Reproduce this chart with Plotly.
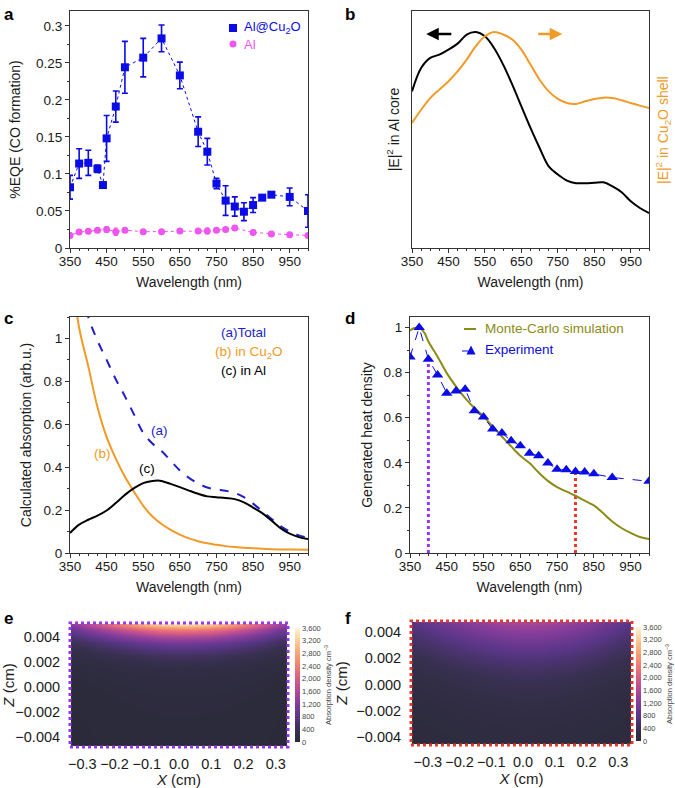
import plotly.graph_objects as go

W, H = 675, 788
FONT = "Liberation Sans, Arial, sans-serif"

# ---------------- Panel a data ----------------
a_wl = [350, 375, 400, 425, 440, 450, 475, 500, 550, 600, 650, 700, 725, 750, 775, 800, 825, 850, 875, 900, 950, 1000]
a_cu2o = [0.082, 0.114, 0.115, 0.107, 0.085, 0.148, 0.191, 0.244, 0.257, 0.283, 0.233, 0.157, 0.130, 0.087, 0.064, 0.056, 0.049, 0.058, 0.068, 0.072, 0.069, 0.050]
a_cu2o_err = [0.016, 0.020, 0.017, 0.005, 0.0, 0.031, 0.021, 0.035, 0.026, 0.018, 0.018, 0.020, 0.018, 0.007, 0.020, 0.013, 0.012, 0.010, 0.0, 0.002, 0.012, 0.022]
a_al_wl = [350, 375, 400, 425, 450, 475, 500, 550, 600, 650, 700, 725, 750, 775, 800, 850, 900, 950, 1000]
a_al = [0.017, 0.0216, 0.0225, 0.024, 0.025, 0.022, 0.024, 0.022, 0.022, 0.023, 0.023, 0.023, 0.024, 0.025, 0.027, 0.021, 0.019, 0.018, 0.017]
a_al_err = [0.003, 0.002, 0.002, 0.002, 0.004, 0.005, 0.002, 0.002, 0.001, 0.002, 0.002, 0.004, 0.002, 0.002, 0.002, 0.002, 0.003, 0.002, 0.001]

# ---------------- Panel b data ----------------
b_wl = [350, 375, 400, 425, 450, 475, 500, 525, 550, 575, 600, 625, 650, 675, 700, 725, 750, 775, 800, 825, 850, 875, 900, 925, 950, 975, 1000]
b_core = [0.725, 0.833, 0.880, 0.895, 0.918, 0.946, 0.988, 1.000, 0.980, 0.926, 0.849, 0.756, 0.656, 0.556, 0.463, 0.378, 0.340, 0.312, 0.300, 0.300, 0.302, 0.304, 0.285, 0.258, 0.216, 0.185, 0.162]
b_shell = [0.579, 0.640, 0.694, 0.733, 0.772, 0.818, 0.872, 0.934, 0.980, 1.000, 0.988, 0.965, 0.918, 0.849, 0.779, 0.725, 0.690, 0.671, 0.667, 0.679, 0.690, 0.696, 0.694, 0.684, 0.671, 0.659, 0.648]

# ---------------- Panel c data ----------------
c_wl_tot = [375, 400, 425, 450, 475, 500, 525, 550, 575, 600, 625, 650, 675, 700, 725, 750, 775, 800, 825, 850, 875, 900, 925, 950, 975, 1000]
c_total = [1.30, 1.10, 0.99, 0.90, 0.81, 0.73, 0.645, 0.56, 0.51, 0.475, 0.43, 0.385, 0.35, 0.325, 0.305, 0.297, 0.29, 0.28, 0.26, 0.23, 0.195, 0.16, 0.125, 0.10, 0.082, 0.072]
c_wl_cu = [350, 375, 400, 425, 450, 475, 500, 525, 550, 575, 600, 625, 650, 675, 700, 725, 750, 775, 800, 850, 900, 950, 1000]
c_cu2o = [1.35, 1.05, 0.87, 0.68, 0.54, 0.44, 0.355, 0.285, 0.22, 0.17, 0.135, 0.108, 0.086, 0.068, 0.055, 0.045, 0.038, 0.032, 0.028, 0.022, 0.018, 0.016, 0.015]
c_wl_al = [350, 375, 400, 425, 450, 475, 500, 525, 550, 575, 590, 600, 625, 650, 675, 700, 725, 750, 775, 800, 825, 850, 875, 900, 925, 950, 975, 1000]
c_al = [0.093, 0.132, 0.155, 0.174, 0.198, 0.233, 0.271, 0.302, 0.326, 0.336, 0.338, 0.336, 0.322, 0.307, 0.291, 0.276, 0.264, 0.260, 0.256, 0.251, 0.236, 0.212, 0.186, 0.152, 0.116, 0.090, 0.074, 0.065]

# ---------------- Panel d data ----------------
d_exp_wl = [350, 375, 400, 425, 450, 475, 500, 525, 550, 575, 600, 625, 650, 675, 700, 725, 750, 775, 800, 825, 850, 900, 1000]
d_exp = [0.869, 1.0, 0.86, 0.79, 0.709, 0.719, 0.727, 0.631, 0.603, 0.55, 0.532, 0.498, 0.476, 0.443, 0.431, 0.399, 0.372, 0.369, 0.362, 0.359, 0.352, 0.335, 0.318]
d_mc_wl = [350, 360, 375, 390, 400, 425, 450, 475, 500, 525, 550, 575, 600, 625, 650, 675, 700, 725, 750, 775, 800, 825, 850, 875, 900, 925, 950, 975, 1000]
d_mc = [0.987, 0.997, 1.0, 0.975, 0.938, 0.871, 0.798, 0.739, 0.687, 0.643, 0.606, 0.561, 0.517, 0.473, 0.431, 0.399, 0.357, 0.32, 0.292, 0.273, 0.254, 0.232, 0.211, 0.177, 0.14, 0.111, 0.089, 0.071, 0.062]
d_mark_wl = [400, 800]

# ---------------- Panels e, f data ----------------
hm_x = [-0.35, -0.3, -0.25, -0.2, -0.15, -0.1, -0.05, 0.0, 0.05, 0.1, 0.15, 0.2, 0.25, 0.3, 0.35]
hm_z = [-0.005, -0.0045, -0.004, -0.0035, -0.003, -0.0025, -0.002, -0.0015, -0.001, -0.0005, 0.0,
        0.0005, 0.001, 0.0015, 0.002, 0.0025, 0.003, 0.0035, 0.004, 0.0045, 0.005]
e_lateral = [0.34, 0.45, 0.57, 0.69, 0.80, 0.90, 0.97, 1.0, 0.98, 0.94, 0.86, 0.75, 0.62, 0.48, 0.36]
e_depth = [50, 52, 55, 58, 62, 67, 74, 82, 92, 105, 122, 145, 175, 240, 350, 520, 750, 1050, 1550, 2350, 3450]
f_lateral = [0.50, 0.58, 0.67, 0.76, 0.84, 0.91, 0.97, 1.0, 0.99, 0.95, 0.89, 0.80, 0.70, 0.59, 0.50]
f_depth = [110, 120, 132, 146, 162, 182, 206, 235, 270, 310, 360, 420, 490, 580, 680, 800, 930, 1080, 1250, 1450, 1700]
cbar_ticks = [0, 400, 800, 1200, 1600, 2000, 2400, 2800, 3200, 3600]

e_field = [[d * l for l in e_lateral] for d in e_depth]
f_field = [[d * l for l in f_lateral] for d in f_depth]

# ---------------- colours ----------------
BLUE = "#0b0be6"
MAG = "#ef55ef"
ORANGE = "#f29a26"
OLIVE = "#8b8b16"
DBLUE = "#1f1fcc"
PURPLE = "#9a35ee"
RED = "#e8382c"
AX = "#333333"
TXT = "#1a1a1a"

colorscale = [[0.0, "#2a2a38"], [0.1, "#37304f"], [0.22, "#5a3688"], [0.35, "#8a3d9c"],
              [0.48, "#bd4f90"], [0.62, "#e96e7a"], [0.75, "#f69a6e"], [0.88, "#f9c996"], [1.0, "#fdf5d5"]]


def px_x(p):
    return p / W


def px_y(p):
    return 1 - p / H


fig = go.Figure()

# ---- a ----
fig.add_trace(go.Scatter(x=a_wl, y=a_cu2o, mode="lines", line=dict(color=BLUE, width=1, dash="dot"),
                         xaxis="x", yaxis="y", showlegend=False))
fig.add_trace(go.Scatter(x=a_al_wl, y=a_al, mode="lines", line=dict(color=MAG, width=1, dash="dashdot"),
                         xaxis="x", yaxis="y", showlegend=False))
fig.add_trace(go.Scatter(x=a_wl, y=a_cu2o, mode="markers", marker=dict(symbol="square", size=8, color=BLUE),
                         error_y=dict(type="data", array=a_cu2o_err, color=BLUE, thickness=1.6, width=3),
                         xaxis="x", yaxis="y", showlegend=False))
fig.add_trace(go.Scatter(x=a_al_wl, y=a_al, mode="markers", marker=dict(symbol="circle", size=7, color=MAG),
                         error_y=dict(type="data", array=a_al_err, color=MAG, thickness=1.2, width=2),
                         xaxis="x", yaxis="y", showlegend=False))

# ---- b ----
fig.add_trace(go.Scatter(x=b_wl, y=b_core, mode="lines", line=dict(color="black", width=2, shape="spline"),
                         xaxis="x2", yaxis="y2", showlegend=False))
fig.add_trace(go.Scatter(x=b_wl, y=b_shell, mode="lines", line=dict(color=ORANGE, width=2, shape="spline"),
                         xaxis="x2", yaxis="y3", showlegend=False))

# ---- c ----
fig.add_trace(go.Scatter(x=c_wl_tot, y=c_total, mode="lines", line=dict(color=DBLUE, width=2, dash="dash", shape="spline"),
                         xaxis="x3", yaxis="y4", showlegend=False))
fig.add_trace(go.Scatter(x=c_wl_cu, y=c_cu2o, mode="lines", line=dict(color=ORANGE, width=2, shape="spline"),
                         xaxis="x3", yaxis="y4", showlegend=False))
fig.add_trace(go.Scatter(x=c_wl_al, y=c_al, mode="lines", line=dict(color="black", width=2, shape="spline"),
                         xaxis="x3", yaxis="y4", showlegend=False))

# ---- d ----
for wl, col in zip(d_mark_wl, [PURPLE, RED]):
    yv = d_exp[d_exp_wl.index(wl)]
    fig.add_trace(go.Scatter(x=[wl, wl], y=[0, yv], mode="lines", line=dict(color=col, width=3, dash="dot"),
                             xaxis="x4", yaxis="y5", showlegend=False))
fig.add_trace(go.Scatter(x=d_mc_wl, y=d_mc, mode="lines", line=dict(color=OLIVE, width=2, shape="spline"),
                         xaxis="x4", yaxis="y5", showlegend=False))
fig.add_trace(go.Scatter(x=d_exp_wl, y=d_exp, mode="lines+markers", line=dict(color=BLUE, width=1, dash="dash"),
                         marker=dict(symbol="triangle-up", size=10, color=BLUE),
                         xaxis="x4", yaxis="y5", showlegend=False))

# ---- e, f heatmaps ----
def cbar(xpix, ycenter):
    return dict(x=px_x(xpix), xanchor="left", y=px_y(ycenter), yanchor="middle", len=114, lenmode="pixels",
                thickness=5, xpad=0, ypad=0, outlinewidth=0, tickvals=cbar_ticks, tickformat=",d", ticks="",
                tickfont=dict(size=7.5, color="#444", family=FONT),
                title=dict(text="Absorption density cm<sup>−3</sup>", side="right", font=dict(size=7.5, color="#444", family=FONT)))

fig.add_trace(go.Heatmap(x=hm_x, y=hm_z, z=e_field, zmin=0, zmax=3600, colorscale=colorscale, zsmooth="best",
                         xaxis="x5", yaxis="y6", colorbar=cbar(295, 685)))
fig.add_trace(go.Heatmap(x=hm_x, y=hm_z, z=f_field, zmin=0, zmax=3600, colorscale=colorscale, zsmooth="best",
                         xaxis="x6", yaxis="y7", colorbar=cbar(636, 684)))

# ---------------- axes ----------------
tickfont = dict(size=13.5, color=TXT, family=FONT)
titlefont = dict(size=14, color=TXT, family=FONT)


def wl_axis(x0, x1, anchor, title=True):
    return dict(domain=[px_x(x0), px_x(x1)], range=[350, 1000], anchor=anchor, tick0=350, dtick=100,
                ticks="outside", ticklen=4, tickwidth=1, tickcolor=AX, showline=True, linecolor=AX, linewidth=1,
                mirror=True, showgrid=False, zeroline=False, tickfont=tickfont, automargin=False,
                ticklabelstandoff=-3,
                minor=dict(dtick=25, tick0=350, ticks="outside", ticklen=2, tickcolor=AX, showgrid=False),
                title=dict(text="Wavelength (nm)", font=titlefont, standoff=8))


def val_axis(y0, y1, anchor, rng, dtick, mdtick, title, standoff):
    return dict(domain=[px_y(y1), px_y(y0)], range=rng, anchor=anchor, dtick=dtick, tick0=0,
                ticks="outside", ticklen=4, tickwidth=1, tickcolor=AX, showline=True, linecolor=AX, linewidth=1,
                mirror=True, showgrid=False, zeroline=False, tickfont=tickfont, automargin=False,
                minor=dict(dtick=mdtick, ticks="outside", ticklen=2, tickcolor=AX, showgrid=False),
                title=dict(text=title, font=titlefont, standoff=standoff))


hm_tick = dict(size=14.5, color=TXT, family=FONT)
hm_title = dict(size=15, color=TXT, family=FONT)

layout = dict(
    width=W, height=H, margin=dict(l=0, r=0, t=0, b=0, autoexpand=False), paper_bgcolor="white", plot_bgcolor="white",
    font=dict(family=FONT, color=TXT), showlegend=False,
    xaxis=wl_axis(70, 308, "y"),
    yaxis=val_axis(11, 248, "x", [0, 0.32], 0.05, 0.025, "%EQE (CO formation)", 12),
    xaxis2=wl_axis(412, 649, "y2"),
    yaxis2=dict(domain=[px_y(248), px_y(11)], range=[0, 1.097], anchor="x2", showticklabels=False, ticks="",
                showline=True, linecolor=AX, linewidth=1, mirror=True, showgrid=False, zeroline=False, automargin=False,
                title=dict(text="|E|<sup>2</sup> in Al core", font=titlefont, standoff=8)),
    yaxis3=dict(domain=[px_y(248), px_y(11)], range=[0, 1.097], anchor="x2", overlaying="y2", side="right",
                showticklabels=False, ticks="", showline=False, showgrid=False, zeroline=False, automargin=False),
    xaxis3=wl_axis(70, 308, "y4"),
    yaxis4=val_axis(317, 553, "x3", [0, 1.1], 0.2, 0.1, "Calculated absorption (arb.u.)", 8),
    xaxis4=wl_axis(410, 649, "y5"),
    yaxis5=val_axis(317, 553, "x4", [0, 1.047], 0.2, 0.1, "Generated heat density", 7),
    xaxis5=dict(domain=[px_x(71), px_x(287)], range=[-0.335, 0.335], anchor="y6", tickvals=[-0.3, -0.2, -0.1, 0, 0.1, 0.2, 0.3],
                tickformat=".1f", ticks="outside", ticklen=5, tickcolor="rgba(0,0,0,0)", showline=False, showgrid=False,
                zeroline=False, tickfont=hm_tick, automargin=False,
                title=dict(text="<i>X</i> (cm)", font=hm_title, standoff=2)),
    yaxis6=dict(domain=[px_y(746), px_y(624)], range=[-0.0047, 0.005], anchor="x5",
                tickvals=[-0.004, -0.002, 0, 0.002, 0.004], tickformat=".3f", ticks="outside", ticklen=7,
                tickcolor="rgba(0,0,0,0)", showline=False, showgrid=False, zeroline=False, automargin=False,
                tickfont=hm_tick, title=dict(text="<i>Z</i> (cm)", font=hm_title, standoff=5)),
    xaxis6=dict(domain=[px_x(412), px_x(631)], range=[-0.35, 0.34], anchor="y7", tickvals=[-0.3, -0.2, -0.1, 0, 0.1, 0.2, 0.3],
                tickformat=".1f", ticks="outside", ticklen=5, tickcolor="rgba(0,0,0,0)", showline=False, showgrid=False,
                zeroline=False, tickfont=hm_tick, automargin=False,
                title=dict(text="<i>X</i> (cm)", font=hm_title, standoff=2)),
    yaxis7=dict(domain=[px_y(744), px_y(622)], range=[-0.00453, 0.00476], anchor="x6",
                tickvals=[-0.004, -0.002, 0, 0.002, 0.004], tickformat=".3f", ticks="outside", ticklen=7,
                tickcolor="rgba(0,0,0,0)", showline=False, showgrid=False, zeroline=False, automargin=False,
                tickfont=hm_tick, title=dict(text="<i>Z</i> (cm)", font=hm_title, standoff=5)),
)
fig.update_layout(**layout)

# ---------------- annotations ----------------
ann = []


def text_ann(text, x, y, color, size=13.5, xanchor="left"):
    ann.append(dict(text=text, x=px_x(x), y=px_y(y), xref="paper", yref="paper", xanchor=xanchor, yanchor="middle",
                    showarrow=False, font=dict(size=size, color=color, family=FONT)))


for lab, x, y in [("a", 2, 3), ("b", 343, 3), ("c", 2, 307), ("d", 343, 307), ("e", 2, 607), ("f", 343, 607)]:
    ann.append(dict(text="<b>%s</b>" % lab, x=px_x(x), y=px_y(y), xref="paper", yref="paper", xanchor="left",
                    yanchor="top", showarrow=False, font=dict(size=17, color="black", family=FONT)))
# legend texts
text_ann("Al@Cu<sub>2</sub>O", 242, 28, BLUE, 13)
text_ann("Al", 242, 44, MAG, 13)
text_ann("Monte-Carlo simulation", 483, 329, OLIVE, 13.5)
text_ann("Experiment", 483, 350, BLUE, 13.5)
# right-hand title of b
ann.append(dict(text="|E|<sup>2</sup> in Cu<sub>2</sub>O shell", x=px_x(663), y=px_y(130), xref="paper", yref="paper",
                textangle=-90, showarrow=False, xanchor="center", yanchor="middle",
                font=dict(size=14, color=ORANGE, family=FONT)))
# arrows in b
ann.append(dict(x=389, y=0.99, ax=462, ay=0.99, xref="x2", yref="y2", axref="x2", ayref="y2", showarrow=True,
                arrowhead=2, arrowsize=1, arrowwidth=2.5, arrowcolor="black", text=""))
ann.append(dict(x=762, y=0.99, ax=692, ay=0.99, xref="x2", yref="y2", axref="x2", ayref="y2", showarrow=True,
                arrowhead=2, arrowsize=1, arrowwidth=2.5, arrowcolor=ORANGE, text=""))
# legend-like labels in c
text_ann("(a)Total", 219, 332, DBLUE)
text_ann("(b) in Cu<sub>2</sub>O", 213, 352, ORANGE)
text_ann("(c) in Al", 219, 370, "black")
cfont = 13.5
ann.append(dict(text="(a)", x=594, y=0.57, xref="x3", yref="y4", showarrow=False, font=dict(size=cfont, color=DBLUE, family=FONT)))
ann.append(dict(text="(b)", x=440, y=0.465, xref="x3", yref="y4", showarrow=False, font=dict(size=cfont, color=ORANGE, family=FONT)))
ann.append(dict(text="(c)", x=560, y=0.395, xref="x3", yref="y4", showarrow=False, font=dict(size=cfont, color="black", family=FONT)))
fig.update_layout(annotations=ann)


def prect(x0, y0, x1, y1, color):
    return dict(type="rect", xref="paper", yref="paper", x0=px_x(x0), x1=px_x(x1), y0=px_y(y1), y1=px_y(y0),
                fillcolor=color, line=dict(width=0))


shapes = [
    # dotted borders around heatmaps
    dict(type="rect", xref="paper", yref="paper", x0=px_x(70), x1=px_x(288), y0=px_y(747), y1=px_y(623),
         line=dict(color=PURPLE, width=3, dash="dot")),
    dict(type="rect", xref="paper", yref="paper", x0=px_x(411), x1=px_x(632), y0=px_y(745), y1=px_y(621),
         line=dict(color=RED, width=3, dash="dot")),
    # legend symbols (panel a)
    prect(229, 24, 237, 32, BLUE),
    dict(type="circle", xref="paper", yref="paper", x0=px_x(229.5), x1=px_x(236.5), y0=px_y(47.5), y1=px_y(40.5),
         fillcolor=MAG, line=dict(width=0)),
    # legend symbols (panel d)
    dict(type="line", xref="paper", yref="paper", x0=px_x(464), x1=px_x(476), y0=px_y(329), y1=px_y(329),
         line=dict(color=OLIVE, width=2)),
    dict(type="line", xref="paper", yref="paper", x0=px_x(462), x1=px_x(480), y0=px_y(351), y1=px_y(351),
         line=dict(color=BLUE, width=1, dash="dash")),
    dict(type="path", xref="paper", yref="paper",
         path="M %f %f L %f %f L %f %f Z" % (px_x(466.5), px_y(354.5), px_x(475.5), px_y(354.5), px_x(471), px_y(345.5)),
         fillcolor=BLUE, line=dict(width=0)),
]
fig.update_layout(shapes=shapes)

fig.write_html("out.html", config={"displayModeBar": False},
               post_script="document.body.style.margin='0px';")
